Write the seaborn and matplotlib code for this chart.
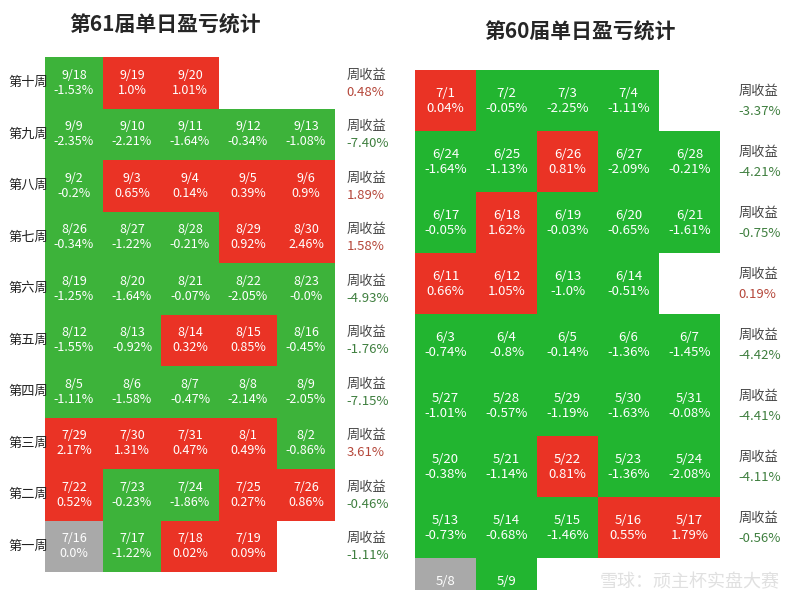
import numpy as np
import pandas as pd
import seaborn as sns
import matplotlib.pyplot as plt
from matplotlib.colors import ListedColormap

sns.set_style("white")
plt.rcParams['font.family'] = ['Noto Sans CJK SC', 'DejaVu Sans']

# 第61届
weeks61 = ["第十周", "第九周", "第八周", "第七周", "第六周", "第五周", "第四周", "第三周", "第二周", "第一周"]
dates61 = [
    ["9/18", "9/19", "9/20", "", ""],
    ["9/9", "9/10", "9/11", "9/12", "9/13"],
    ["9/2", "9/3", "9/4", "9/5", "9/6"],
    ["8/26", "8/27", "8/28", "8/29", "8/30"],
    ["8/19", "8/20", "8/21", "8/22", "8/23"],
    ["8/12", "8/13", "8/14", "8/15", "8/16"],
    ["8/5", "8/6", "8/7", "8/8", "8/9"],
    ["7/29", "7/30", "7/31", "8/1", "8/2"],
    ["7/22", "7/23", "7/24", "7/25", "7/26"],
    ["7/16", "7/17", "7/18", "7/19", ""],
]
pct61 = [
    ["-1.53", "1.0", "1.01", None, None],
    ["-2.35", "-2.21", "-1.64", "-0.34", "-1.08"],
    ["-0.2", "0.65", "0.14", "0.39", "0.9"],
    ["-0.34", "-1.22", "-0.21", "0.92", "2.46"],
    ["-1.25", "-1.64", "-0.07", "-2.05", "-0.0"],
    ["-1.55", "-0.92", "0.32", "0.85", "-0.45"],
    ["-1.11", "-1.58", "-0.47", "-2.14", "-2.05"],
    ["2.17", "1.31", "0.47", "0.49", "-0.86"],
    ["0.52", "-0.23", "-1.86", "0.27", "0.86"],
    ["0.0", "-1.22", "0.02", "0.09", None],
]
weekly61 = ["0.48%", "-7.40%", "1.89%", "1.58%", "-4.93%", "-1.76%", "-7.15%", "3.61%", "-0.46%", "-1.11%"]

# 第60届
dates60 = [
    ["7/1", "7/2", "7/3", "7/4", ""],
    ["6/24", "6/25", "6/26", "6/27", "6/28"],
    ["6/17", "6/18", "6/19", "6/20", "6/21"],
    ["6/11", "6/12", "6/13", "6/14", ""],
    ["6/3", "6/4", "6/5", "6/6", "6/7"],
    ["5/27", "5/28", "5/29", "5/30", "5/31"],
    ["5/20", "5/21", "5/22", "5/23", "5/24"],
    ["5/13", "5/14", "5/15", "5/16", "5/17"],
    ["5/8", "5/9", "", "", ""],
]
pct60 = [
    ["0.04", "-0.05", "-2.25", "-1.11", None],
    ["-1.64", "-1.13", "0.81", "-2.09", "-0.21"],
    ["-0.05", "1.62", "-0.03", "-0.65", "-1.61"],
    ["0.66", "1.05", "-1.0", "-0.51", None],
    ["-0.74", "-0.8", "-0.14", "-1.36", "-1.45"],
    ["-1.01", "-0.57", "-1.19", "-1.63", "-0.08"],
    ["-0.38", "-1.14", "0.81", "-1.36", "-2.08"],
    ["-0.73", "-0.68", "-1.46", "0.55", "1.79"],
    ["0.0", "-0.33", None, None, None],
]
weekly60 = ["-3.37%", "-4.21%", "-0.75%", "0.19%", "-4.42%", "-4.41%", "-4.11%", "-0.56%"]


def sign_matrix(pct):
    m = np.full((len(pct), 5), np.nan)
    for i, row in enumerate(pct):
        for j, v in enumerate(row):
            if v is None:
                continue
            f = float(v)
            m[i, j] = 0 if v == "0.0" else (1 if f > 0 else -1)
    return m


def labels(dates, pct):
    return np.array([[f"{d}\n{p}%" if p is not None else "" for d, p in zip(dr, pr)]
                     for dr, pr in zip(dates, pct)])


def draw(ax, dates, pct, weekly, green, fs, wx):
    m = sign_matrix(pct)
    cmap = ListedColormap([green, "#a9a9a9", "#ea3325"])
    sns.heatmap(pd.DataFrame(m), ax=ax, cmap=cmap, vmin=-1.5, vmax=1.5, cbar=False,
                annot=labels(dates, pct), fmt="", annot_kws={"color": "white", "fontsize": fs},
                xticklabels=False, yticklabels=False)
    for i, w in enumerate(weekly):
        c = "#b5473a" if not w.startswith("-") else "#3f7f3f"
        ax.text(wx, i + 0.35, "周收益", fontsize=9.5, color="#444444", va="center", clip_on=False)
        ax.text(wx, i + 0.68, w, fontsize=9.5, color=c, va="center", clip_on=False)


fig = plt.figure(figsize=(8, 6), dpi=100)

ax1 = fig.add_axes([45 / 800, 28 / 600, 290 / 800, 515 / 600])
draw(ax1, dates61, pct61, weekly61, "#3db33a", 9, 5.2)
for i, w in enumerate(weeks61):
    fig.text(8 / 800, 1 - (57 + 51.5 * (i + 0.5)) / 600, w, fontsize=9.5,
             ha="left", va="center", color="#222222")
fig.text(165 / 800, 1 - 25 / 600, "第61届单日盈亏统计", fontsize=15, weight="bold", ha="center", va="center")

ax2 = fig.add_axes([415 / 800, 10 / 600, 305 / 800, 520 / 600])
draw(ax2, dates60, pct60, weekly60, "#22b530", 9.5, 5.3)
ax2.set_ylim(8.52, 0)
fig.text(580 / 800, 1 - 32 / 600, "第60届单日盈亏统计", fontsize=15, weight="bold", ha="center", va="center")

fig.text(690 / 800, 18 / 600, "雪球：顽主杯实盘大赛", fontsize=13, ha="center", va="center",
         color="#dddddd", alpha=0.9)

fig.savefig("out.png", dpi=100)
